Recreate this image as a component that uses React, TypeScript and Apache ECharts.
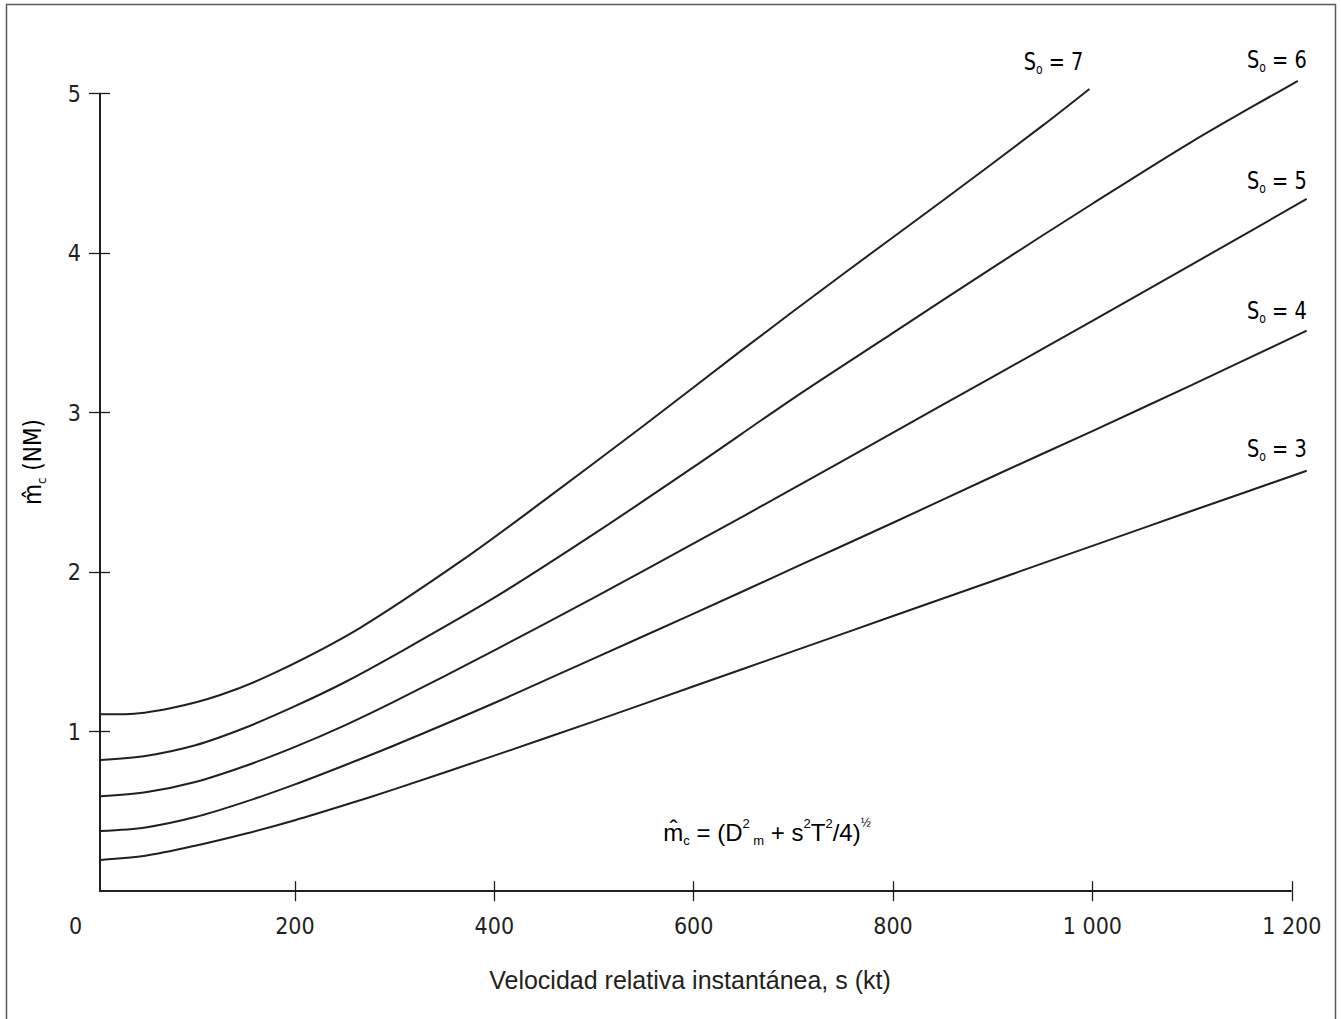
import React, { useEffect, useRef } from "react";
import * as echarts from "echarts";

// ---- data (s in kt, m in NM) ----
const speedTicks = [200, 400, 600, 800, 1000, 1200];
const speedLabels = [0, 200, 400, 600, 800, 1000, 1200];
const rangeTicks = [1, 2, 3, 4, 5];
const axisCornerSpeed = 4.4; // where the vertical axis stands on the speed scale
const speedAxisEnd = 1200;

const speedS7 = [5, 30, 75, 125, 180, 265, 369, 450, 550, 650, 750, 850, 950, 997];
const rangeS7 = [1.11, 1.11, 1.147, 1.23, 1.37, 1.65, 2.08, 2.45, 2.92, 3.4, 3.87, 4.33, 4.8, 5.03];

const speedS6 = [5, 50, 100, 150, 200, 250, 300, 400, 500, 600, 700, 800, 900, 1000, 1100, 1206];
const rangeS6 = [0.823, 0.848, 0.915, 1.025, 1.16, 1.31, 1.48, 1.84, 2.24, 2.66, 3.09, 3.5, 3.91, 4.31, 4.7, 5.08];

const speedS5 = [5, 50, 100, 150, 200, 250, 300, 400, 500, 600, 700, 800, 900, 1000, 1100, 1215];
const rangeS5 = [0.595, 0.62, 0.685, 0.785, 0.905, 1.04, 1.19, 1.51, 1.84, 2.18, 2.525, 2.875, 3.225, 3.575, 3.93, 4.34];

const speedS4 = [5, 50, 100, 150, 200, 250, 300, 400, 500, 600, 700, 800, 900, 1000, 1100, 1215];
const rangeS4 = [0.377, 0.4, 0.465, 0.56, 0.67, 0.79, 0.915, 1.18, 1.46, 1.74, 2.025, 2.31, 2.6, 2.885, 3.175, 3.514];

const speedS3 = [5, 50, 100, 150, 200, 250, 300, 400, 500, 600, 700, 800, 900, 1000, 1100, 1215];
const rangeS3 = [0.196, 0.222, 0.285, 0.36, 0.445, 0.54, 0.64, 0.85, 1.065, 1.285, 1.505, 1.725, 1.945, 2.165, 2.385, 2.636];

const curveValues = ["7", "6", "5", "4", "3"];
const curveSpeeds = [speedS7, speedS6, speedS5, speedS4, speedS3];
const curveRanges = [rangeS7, rangeS6, rangeS5, rangeS4, rangeS3];

// label offsets from the curve end (pixels)
const labelOffsets = [
  [-6, -28],
  [9, -22],
  [0, -19],
  [0, -21],
  [0, -23],
];

const INK = "#231f20";
const NARROW = '"Liberation Sans Narrow", "Arial Narrow", "DejaVu Sans Condensed", sans-serif';
const REGULAR = '"Liberation Sans", Arial, sans-serif';

const fmtSpeed = (v: number) => {
  if (v === 0) return "{z|0}";
  const s = String(v);
  return s.length > 3 ? s.slice(0, s.length - 3) + " " + s.slice(-3) : s;
};

export default function App() {
  const ref = useRef<HTMLDivElement>(null);
  useEffect(() => {
    const chart = echarts.init(ref.current!, undefined, { renderer: "svg" });
    const tickStyle = { color: INK, width: 1.3 };
    const option: any = {
      animation: false,
      backgroundColor: "#ffffff",
      grid: { left: 95.6, right: 29.3, top: 93.7, bottom: 127.8, containLabel: false },
      xAxis: [
        {
          type: "value",
          min: 0,
          max: 1220,
          position: "bottom",
          splitLine: { show: false },
          axisLine: { show: false, onZero: false },
          axisTick: { show: true, inside: false, length: 10, lineStyle: tickStyle, customValues: speedTicks },
          axisLabel: {
            show: true,
            margin: 23,
            color: INK,
            fontFamily: NARROW,
            fontSize: 23,
            customValues: speedLabels,
            formatter: fmtSpeed,
            rich: { z: { fontFamily: NARROW, fontSize: 23, color: INK, padding: [0, 40, 0, 0] } },
          },
        },
        {
          type: "value",
          min: 0,
          max: 1220,
          position: "bottom",
          splitLine: { show: false },
          axisLine: { show: false, onZero: false },
          axisTick: { show: true, inside: true, length: 10, lineStyle: tickStyle, customValues: speedTicks },
          axisLabel: { show: false },
        },
      ],
      yAxis: [
        {
          type: "value",
          min: 0,
          max: 5,
          position: "left",
          offset: -axisCornerSpeed * 0.9968,
          splitLine: { show: false },
          axisLine: { show: true, onZero: false, lineStyle: { color: INK, width: 2 } },
          axisTick: { show: true, inside: false, length: 11, lineStyle: tickStyle, customValues: rangeTicks },
          axisLabel: {
            show: true,
            margin: 19,
            color: INK,
            fontFamily: NARROW,
            fontSize: 23,
            customValues: rangeTicks,
          },
        },
        {
          type: "value",
          min: 0,
          max: 5,
          position: "left",
          offset: -axisCornerSpeed * 0.9968,
          splitLine: { show: false },
          axisLine: { show: false, onZero: false },
          axisTick: { show: true, inside: true, length: 10, lineStyle: tickStyle, customValues: rangeTicks },
          axisLabel: { show: false },
        },
      ],
      series: curveValues.map((name, i) => ({
        name: "So = " + name,
        type: "line",
        xAxisIndex: 0,
        yAxisIndex: 0,
        data: curveSpeeds[i].map((s, j) => [s, curveRanges[i][j]]),
        showSymbol: false,
        symbol: "none",
        smooth: 0.3,
        clip: false,
        silent: true,
        lineStyle: { color: INK, width: 2 },
        z: 3,
        markLine:
          i === 0
            ? {
                silent: true,
                symbol: ["none", "none"],
                label: { show: false },
                lineStyle: { color: INK, width: 2, type: "solid" },
                emphasis: { disabled: true },
                data: [[{ coord: [axisCornerSpeed, 0] }, { coord: [speedAxisEnd, 0] }]],
              }
            : undefined,
      })),
    };
    chart.setOption(option);

    const sLabelRich = {
      s: { fontFamily: NARROW, fontSize: 25, color: INK, lineHeight: 30 },
      sub: { fontFamily: NARROW, fontSize: 14, color: INK, lineHeight: 14, verticalAlign: "bottom" },
    };

    const labels = curveValues.map((v, i) => {
      const sp = curveSpeeds[i];
      const rg = curveRanges[i];
      const p = chart.convertToPixel({ gridIndex: 0 }, [sp[sp.length - 1], rg[rg.length - 1]]) as number[];
      return {
        type: "text",
        x: p[0] + labelOffsets[i][0],
        y: p[1] + labelOffsets[i][1],
        scaleX: 0.86,
        silent: true,
        style: {
          text: "{s|S}{sub|o}{s| = " + v + "}",
          align: "right",
          verticalAlign: "middle",
          rich: sLabelRich,
        },
      };
    });

    const graphics: any[] = [
      {
        type: "rect",
        silent: true,
        z: -10,
        shape: { x: 6.5, y: 4.5, width: 1329, height: 1040 },
        style: { fill: "none", stroke: "#5a5a5a", lineWidth: 1.5 },
      },
      {
        type: "text",
        x: 690,
        y: 980,
        silent: true,
        style: {
          text: "Velocidad relativa instantánea, s (kt)",
          fontFamily: REGULAR,
          fontSize: 25,
          fill: INK,
          align: "center",
          verticalAlign: "middle",
        },
      },
      {
        type: "text",
        x: 33,
        y: 462,
        rotation: Math.PI / 2,
        silent: true,
        style: {
          text: "{t|m\u0302}{sub|c}{t| (NM)}",
          align: "center",
          verticalAlign: "middle",
          rich: {
            t: { fontFamily: NARROW, fontSize: 24, color: INK, lineHeight: 30 },
            sub: { fontFamily: NARROW, fontSize: 13, color: INK, lineHeight: 14, verticalAlign: "bottom" },
          },
        },
      },
      {
        type: "text",
        x: 767,
        y: 832,
        silent: true,
        style: {
          text: "{t|m\u0302}{sub|c}{t| = (D}{sup|2}{sub2| m}{t| + s}{sup|2}{t|T}{sup|2}{t|/4)}{half|½}",
          align: "center",
          verticalAlign: "middle",
          rich: {
            t: { fontFamily: REGULAR, fontSize: 24, color: INK, lineHeight: 30 },
            sub: { fontFamily: REGULAR, fontSize: 13, color: INK, lineHeight: 14, verticalAlign: "bottom" },
            sub2: { fontFamily: REGULAR, fontSize: 13, color: INK, lineHeight: 18, verticalAlign: "bottom" },
            sup: { fontFamily: REGULAR, fontSize: 13, color: INK, lineHeight: 20, verticalAlign: "top" },
            half: { fontFamily: REGULAR, fontSize: 12, color: INK, lineHeight: 20, verticalAlign: "top" },
          },
        },
      },
      ...labels,
    ];
    chart.setOption({ graphic: graphics });
    return () => chart.dispose();
  }, []);
  return (
    <div
      ref={ref}
      style={{ position: "fixed", left: 0, top: 0, width: 1341, height: 1019, background: "#ffffff" }}
    />
  );
}
